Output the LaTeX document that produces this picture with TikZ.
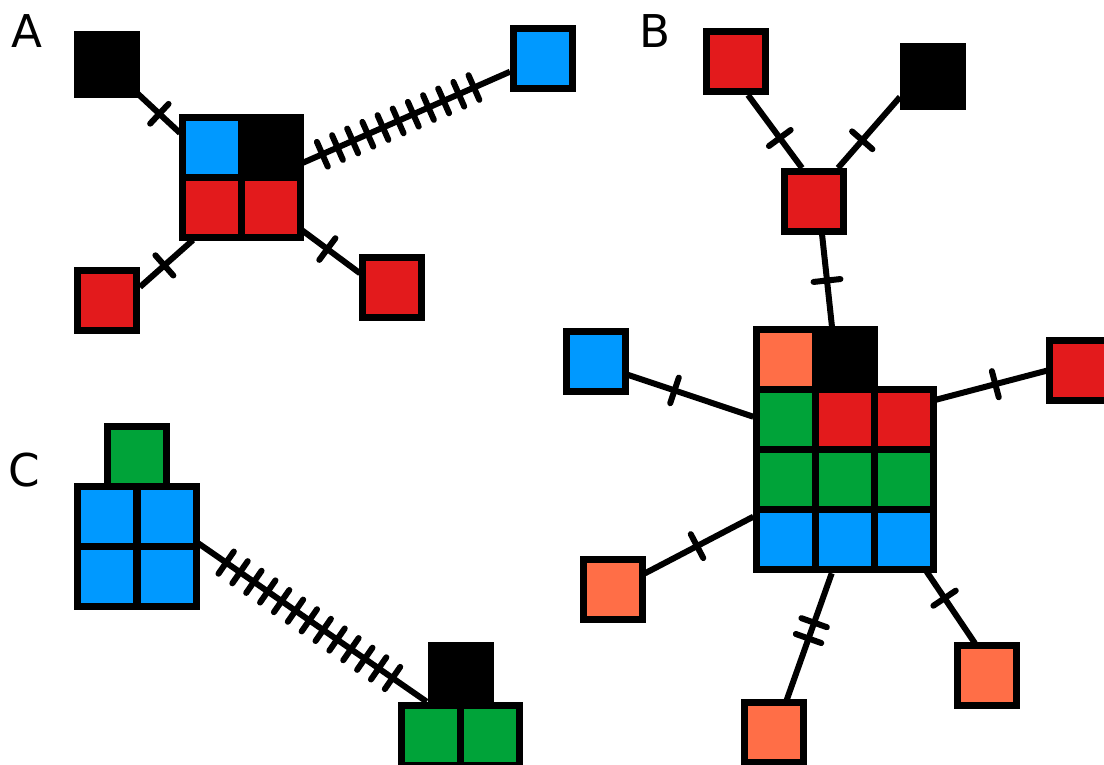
\documentclass[tikz,border=0pt]{standalone}
\usepackage{fontspec}
\setsansfont{DejaVu Sans}
\usetikzlibrary{calc,decorations.markings,backgrounds}
\definecolor{cred}{HTML}{E31A1C}
\definecolor{cblue}{HTML}{0099FF}
\definecolor{cgreen}{HTML}{00A339}
\definecolor{corange}{HTML}{FF6E47}
\tikzset{
  cell/.style={shape=rectangle,draw=black,line width=3.5pt,
    minimum width=29.5pt,minimum height=30pt,inner sep=0pt},
  rc/.style={cell,fill=cred},
  bc/.style={cell,fill=cblue},
  gc/.style={cell,fill=cgreen},
  oc/.style={cell,fill=corange},
  kc/.style={cell,fill=black},
  lbl/.style={inner sep=0pt,font=\sffamily\fontsize{22.6pt}{27pt}\selectfont},
  link/.style={draw=black,line width=3pt},
  tickmark/.style={line width=3pt,line cap=round},
  tickat/.style={postaction={decorate,decoration={markings,
    mark=at position #1 with {\draw[tickmark] (0,-13.5) -- (0,13.5);}}}},
  tickrun/.style n args={3}{postaction={decorate,decoration={markings,
    mark=between positions #1 and #2 step #3 with {\draw[tickmark] (0,-13.5) -- (0,13.5);}}}}
}
\begin{document}
\begin{tikzpicture}[x=0.5pt,y=-0.5pt]
\useasboundingbox (0,0) rectangle (1104,765);

% ---- panel A ----
\node[lbl] (labA) at (26.7,31.5) {A};
\node[kc] (blkA) at (107,64.5) {};
\node[bc] (bluA) at (542.5,58.3) {};
\node[rc] (redA1) at (107,300.5) {};
\node[rc] (redA2) at (391.7,287.2) {};
\node[bc] (cA11) at (211.5,147.7) {};
\node[kc] (cA12) at (270.5,147.7) {};
\node[rc] (cA21) at (211.5,207.7) {};
\node[rc] (cA22) at (270.5,207.7) {};

% ---- panel B ----
\node[lbl] (labB) at (654.7,31) {B};
\node[rc] (redB1) at (736.3,61.7) {};
\node[kc] (blkB) at (933,76.2) {};
\node[rc] (redB2) at (813.5,201.7) {};
\node[oc] (cB11) at (785.5,359.3) {};
\node[kc] (cB12) at (844.5,359.3) {};
\node[gc] (cB21) at (785.5,419.3) {};
\node[rc] (cB22) at (844.5,419.3) {};
\node[rc] (cB23) at (903.5,419.3) {};
\node[gc] (cB31) at (785.5,479.3) {};
\node[gc] (cB32) at (844.5,479.3) {};
\node[gc] (cB33) at (903.5,479.3) {};
\node[bc] (cB41) at (785.5,539.3) {};
\node[bc] (cB42) at (844.5,539.3) {};
\node[bc] (cB43) at (903.5,539.3) {};
\node[bc] (bluB) at (595.5,361.5) {};
\node[rc] (redB3) at (1079,370) {};
\node[oc] (orB1) at (612.8,589.5) {};
\node[oc] (orB2) at (773.8,732.5) {};
\node[oc] (orB3) at (987.3,675.5) {};

% ---- panel C ----
\node[lbl] (labC) at (24.7,470.3) {C};
\node[gc] (grnC) at (136.7,456.7) {};
\node[bc] (cC11) at (107,516.5) {};
\node[bc] (cC12) at (166.5,516.5) {};
\node[bc] (cC21) at (107,576) {};
\node[bc] (cC22) at (166.5,576) {};
\node[kc] (blkC) at (460.5,675) {};
\node[gc] (gC1) at (431.2,735) {};
\node[gc] (gC2) at (490.2,735) {};

% ---- connectors, behind the squares ----
\begin{scope}[on background layer]
  \draw[link,tickat=0.52] ($(blkA)+(30,28.5)$) -- ($(cA11)+(-31.5,-14.7)$);
  \draw[link,tickat=0.46] ($(redA1)+(33,-13.5)$) -- ($(cA21)+(-18.5,32.3)$);
  \draw[link,tickat=0.44] ($(cA22)+(31.2,22.3)$) -- ($(redA2)+(-31.7,-13.9)$);
  \draw[link,tickrun={0.099}{0.835}{0.0728}] ($(cA12)+(31.2,15.6)$) -- ($(bluA)+(-32.5,13.4)$);

  \draw[link,tickat=0.59] ($(redB1)+(11.7,33.3)$) -- ($(redB2)+(-11.5,-33.7)$);
  \draw[link,tickat=0.61] ($(blkB)+(-33,20.8)$) -- ($(redB2)+(24.5,-33.7)$);
  \draw[link,tickat=0.5] ($(redB2)+(8.5,32.3)$) -- ($(cB12)+(-12.5,-32.3)$);
  \draw[link,tickat=0.37] ($(bluB)+(32.8,13.5)$) -- ($(cB21)+(-32.2,-2.6)$);
  \draw[link,tickat=0.54] ($(cB23)+(31.5,-19.3)$) -- ($(redB3)+(-32.3,0.7)$);
  \draw[link,tickat=0.52] ($(cB41)+(-32.2,-22.6)$) -- ($(orB1)+(32.2,-16.2)$);
  \draw[link,tickat=0.39,tickat=0.515] ($(cB42)+(-12.8,34)$) -- ($(orB2)+(12.9,-32.5)$);
  \draw[link,tickat=0.37] ($(cB43)+(23.2,32.4)$) -- ($(orB3)+(-12.3,-32.2)$);

  \draw[link,tickrun={0.122}{0.86}{0.0607}] ($(cC12)+(31.8,26.8)$) -- ($(blkC)+(-33.8,26.7)$);
\end{scope}
\end{tikzpicture}
\end{document}
